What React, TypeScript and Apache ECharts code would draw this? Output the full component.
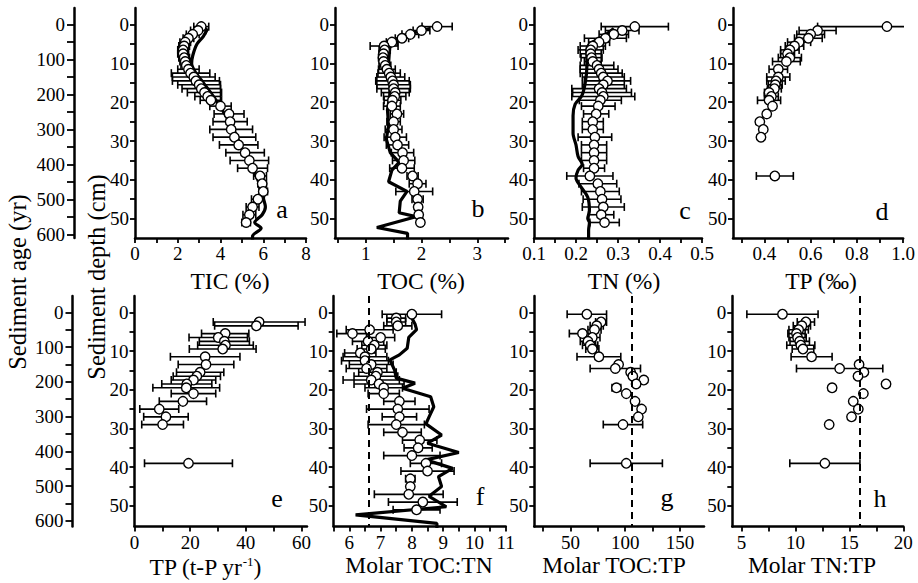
import { useEffect, useRef } from 'react';
import * as echarts from 'echarts';

// ---------- sample depths (cm) ----------
const DEPTH_MAIN = [0.5,1.5,2.5,3.5,4.5,5.5,6.5,7.5,8.5,9.5,10.5,11.5,12.5,13.5,14.5,15.5,16.5,17.5,18.5,19.5,21,23,25,27,29,31,33,35,37,39,41,43,45,47,49,51];
const DEPTH_D = [0.5,1.5,2.5,3.5,4.5,5.5,6.5,7.5,8.5,9.5,11.5,13.5,14.5,15.5,16.5,17.5,18.5,19.5,21,23,25,27,29,39];
const DEPTH_E = [2.5,3.5,5.5,6.5,7.5,8.5,9.5,11.5,13.5,15.5,16.5,17.5,18.5,19.5,21,23,25,27,29,39];
const DEPTH_G = [0.5,2.5,3.5,4.5,5.5,6.5,7.5,8.5,9.5,11.5,13.5,14.5,15.5,16.5,17.5,18.5,19.5,21,23,25,27,29,39];
const DEPTH_H = [0.5,2.5,3.5,4.5,5.5,6.5,7.5,8.5,9.5,11.5,13.5,14.5,15.5,16.5,18.5,19.5,21,23,25,27,29,39];

// ---------- a: TIC (%) ----------
const TIC = [3.1,2.95,2.7,2.5,2.35,2.3,2.25,2.25,2.3,2.35,2.4,2.5,2.6,2.75,2.85,3.0,3.1,3.25,3.4,3.55,4.0,4.4,4.45,4.5,4.65,4.85,5.15,5.35,5.5,5.85,5.95,6.0,5.75,5.5,5.35,5.2];
const TIC_ERR = [0.35,0.35,0.3,0.25,0.25,0.25,0.25,0.25,0.25,0.25,0.25,0.5,0.9,1.0,1.1,1.0,0.9,0.8,0.6,0.5,0.5,0.7,0.8,1.0,1.0,0.9,0.9,0.9,0.7,0.3,0.2,0.2,0.3,0.3,0.3,0.2];
const LINE_A_VAL = [3.4,3.2,2.9,2.7,2.65,2.8,3.2,3.6,3.85,4.3,4.7,5.0,5.4,5.75,5.95,6.1,5.95,5.6,5.9,5.5,5.5];
const LINE_A_DEPTH = [1,3,5,8,10,12,15,18,20,24,28,32,36,40,44,47,49,51,52.5,54.5,56];

// ---------- b: TOC (%) ----------
const TOC = [2.28,2.0,1.8,1.65,1.47,1.33,1.34,1.32,1.31,1.32,1.35,1.38,1.42,1.45,1.48,1.5,1.5,1.53,1.52,1.48,1.47,1.56,1.5,1.5,1.53,1.57,1.66,1.68,1.65,1.84,1.93,1.87,1.93,1.94,1.95,1.98];
const TOC_ERR = [0.27,0.15,0.15,0.12,0.1,0.25,0.1,0.08,0.08,0.08,0.1,0.15,0.2,0.25,0.3,0.3,0.3,0.25,0.2,0.15,0.15,0.12,0.12,0.15,0.2,0.2,0.2,0.2,0.22,0.1,0.15,0.33,0.1,0.05,0.05,0.05];
const LINE_B_VAL = [2.15,1.75,1.5,1.43,1.41,1.44,1.43,1.39,1.41,1.37,1.44,1.6,1.47,1.41,1.74,1.62,1.6,1.9,1.2,1.75,1.75];
const LINE_B_DEPTH = [1,2.5,4,6,10,15,18.5,22,26,29.5,33,35.5,37.5,40.5,43,45.5,48.5,49.5,52.3,53.8,56];

// ---------- c: TN (%) ----------
const TN = [0.34,0.31,0.29,0.27,0.255,0.24,0.235,0.235,0.237,0.24,0.25,0.255,0.26,0.265,0.275,0.265,0.255,0.262,0.265,0.258,0.253,0.248,0.24,0.24,0.245,0.243,0.243,0.243,0.243,0.233,0.252,0.258,0.262,0.265,0.26,0.268];
const TN_ERR = [0.08,0.04,0.035,0.05,0.025,0.03,0.03,0.025,0.025,0.02,0.04,0.045,0.05,0.05,0.055,0.05,0.065,0.07,0.075,0.05,0.04,0.03,0.025,0.025,0.04,0.03,0.03,0.03,0.025,0.055,0.045,0.045,0.045,0.05,0.03,0.035];
const LINE_C_VAL = [0.29,0.265,0.235,0.226,0.226,0.222,0.214,0.198,0.193,0.193,0.2,0.205,0.215,0.205,0.2,0.213,0.228,0.232,0.228,0.232,0.23,0.23];
const LINE_C_DEPTH = [1,3,4.8,6.5,10.5,15,18.3,20.5,23.5,28,31,34,36,37.5,39.5,42,44.5,48,50,51,53,56];

// ---------- d: TP (permil) ----------
const TP = [0.93,0.63,0.6,0.59,0.55,0.53,0.51,0.5,0.51,0.495,0.46,0.46,0.45,0.447,0.443,0.42,0.43,0.42,0.435,0.41,0.38,0.395,0.385,0.445];
const TP_ERR = [0.3,0.08,0.06,0.06,0.05,0.04,0.04,0.03,0.05,0.06,0.04,0.05,0.04,0.03,0.03,0.02,0.03,0.05,0.01,0,0,0,0.01,0.08];

// ---------- e: TP flux (t-P/yr) ----------
const TP_FLUX = [44.8,43.8,32.6,30.1,32.3,32.7,31.7,25.4,25.7,23.6,22.4,21.2,18.8,18.6,21.2,17.4,8.9,11.3,10.1,19.4];
const TP_FLUX_ERR = [16.5,15,8.5,10.5,9,10,12,12.5,10,8.5,8.5,8,9,12,8,8.5,7,8,7.5,15.8];

// ---------- f: molar TOC:TN ----------
const TOC_TN = [8.0,7.5,7.5,7.55,6.65,6.1,7.0,6.6,6.8,6.7,6.35,6.5,6.5,6.7,6.55,6.9,6.85,6.7,6.95,7.1,7.1,7.6,7.55,7.6,7.5,7.7,8.25,8.2,8.0,8.45,8.5,7.95,7.95,7.9,8.35,8.15];
const TOC_TN_ERR = [0.95,0.3,0.3,0.45,0.75,0.5,0.45,0.5,0.4,0.45,0.5,0.7,0.75,0.7,0.65,0.6,0.7,0.9,0.8,0.6,0.5,0.5,1.0,0.55,0.9,0.6,0.55,0.45,0.9,0.5,0.85,0.15,0.1,1.1,1.1,0.75];
const LINE_F_VAL = [7.9,8.1,8.15,7.9,7.85,7.6,7.3,7.45,7.5,8.1,7.7,8.6,8.7,8.55,8.45,8.95,8.5,9.5,8.45,9.3,8.85,8.95,8.55,9.1,6.2,8.8,8.8];
const LINE_F_DEPTH = [0,3,4.5,6.5,9.3,11,12.3,15,17,18.3,19.6,21.8,24.4,27,28.8,31.7,33.8,36.2,38.1,40.3,42.4,45,47.5,50.2,52.3,54.5,56];
const REF_F = 6.625;

// ---------- g: molar TOC:TP ----------
const TOC_TP = [65,78,74,72,61,70,66,68,70,76,94,91,105,107,117,110,92,101,109,115,112,98,101];
const TOC_TP_ERR = [18,5,6,6,12,7,7,7,6,20,0,23,0,0,0,0,4,0,0,0,0,18,33];
const REF_G = 106;

// ---------- h: molar TN:TP ----------
const TN_TP = [8.8,10.97,10.6,10.3,10.1,10.2,10.4,10.5,10.7,11.5,15.9,14.1,16.35,15.8,18.4,13.4,16.3,15.36,15.83,15.2,13.13,12.73];
const TN_TP_ERR = [3.3,0.8,0.8,0.9,0.8,0.8,0.9,1.3,1.0,1.9,0,4.0,0,0,0,0.25,0,0,0,0,0.25,3.25];
const REF_H = 16;

// ---------- ticks & labels ----------
const DEPTH_TICKS = [0,5,10,15,20,25,30,35,40,45,50];
const DEPTH_LABELS = [0,10,20,30,40,50];
const AGE_LABELS = [0,100,200,300,400,500,600];
const AGE_TICKS = [0,50,100,150,200,250,300,350,400,450,500,550,600];

const X_TICKS_A = [0,1,2,3,4,5,6,7,8];
const X_LABELS_A = [0,2,4,6,8];
const X_TICKS_B = [0.5,1,1.5,2,2.5,3,3.5];
const X_LABELS_B = [1,2,3];
const X_TICKS_C = [0.1,0.15,0.2,0.25,0.3,0.35,0.4,0.45,0.5];
const X_LABELS_C = [0.1,0.2,0.3,0.4,0.5];
const X_TICKS_D = [0.3,0.4,0.5,0.6,0.7,0.8,0.9,1.0];
const X_LABELS_D = [0.4,0.6,0.8,1.0];
const X_TICKS_E = [0,10,20,30,40,50,60];
const X_LABELS_E = [0,20,40,60];
const X_TICKS_F = [5.5,6,6.5,7,7.5,8,8.5,9,9.5,10,10.5,11];
const X_LABELS_F = [6,7,8,9,10,11];
const X_TICKS_G = [25,50,75,100,125,150];
const X_LABELS_G = [50,100,150];
const X_TICKS_H = [5,7.5,10,12.5,15,17.5,20];
const X_LABELS_H = [5,10,15,20];

const SERIF = 'Liberation Serif';

// layout of the two rows (pixels) and their depth / age ranges
const R1 = { top: 8.0, height: 230.0, yMin: -4.3, yMax: 55.0, ageMin: -47.7, ageMax: 609.6, ageOffset: 61 };
const R2 = { top: 296, height: 230.5, yMin: -4.2, yMax: 55.3, ageMin: -46.8, ageMax: 616, ageOffset: 62 };

const str = (v: number) => String(v);
const fix1 = (v: number) => v.toFixed(1);

const PANELS: any[] = [
  { row: R1, left: 135, width: 171, xMin: 0, xMax: 8, ticks: X_TICKS_A, labels: X_LABELS_A, fmt: str, depth: DEPTH_MAIN, val: TIC, err: TIC_ERR, lv: LINE_A_VAL, ld: LINE_A_DEPTH, smooth: 0.3, age: true },
  { row: R1, left: 335, width: 173, xMin: 0.45, xMax: 3.55, ticks: X_TICKS_B, labels: X_LABELS_B, fmt: str, depth: DEPTH_MAIN, val: TOC, err: TOC_ERR, lv: LINE_B_VAL, ld: LINE_B_DEPTH, smooth: 0 },
  { row: R1, left: 534, width: 168, xMin: 0.1, xMax: 0.5, ticks: X_TICKS_C, labels: X_LABELS_C, fmt: fix1, depth: DEPTH_MAIN, val: TN, err: TN_ERR, lv: LINE_C_VAL, ld: LINE_C_DEPTH, smooth: 0.3 },
  { row: R1, left: 733, width: 172, xMin: 0.264, xMax: 1.0, ticks: X_TICKS_D, labels: X_LABELS_D, fmt: fix1, depth: DEPTH_D, val: TP, err: TP_ERR },
  { row: R2, left: 134.5, width: 172.5, xMin: 0, xMax: 62, ticks: X_TICKS_E, labels: X_LABELS_E, fmt: str, depth: DEPTH_E, val: TP_FLUX, err: TP_FLUX_ERR, age: true },
  { row: R2, left: 333.7, width: 172, xMin: 5.5, xMax: 11, ticks: X_TICKS_F, labels: X_LABELS_F, fmt: str, depth: DEPTH_MAIN, val: TOC_TN, err: TOC_TN_ERR, lv: LINE_F_VAL, ld: LINE_F_DEPTH, smooth: 0, ref: REF_F },
  { row: R2, left: 534.3, width: 169.7, xMin: 17, xMax: 172, ticks: X_TICKS_G, labels: X_LABELS_G, fmt: str, depth: DEPTH_G, val: TOC_TP, err: TOC_TP_ERR, ref: REF_G },
  { row: R2, left: 732.3, width: 171, xMin: 4.15, xMax: 20, ticks: X_TICKS_H, labels: X_LABELS_H, fmt: str, depth: DEPTH_H, val: TN_TP, err: TN_TP_ERR, ref: REF_H },
];

const LETTERS = [
  { t: 'a', x: 282, y: 209 }, { t: 'b', x: 478, y: 208 }, { t: 'c', x: 685, y: 210 }, { t: 'd', x: 882, y: 211 },
  { t: 'e', x: 277, y: 498 }, { t: 'f', x: 480, y: 496 }, { t: 'g', x: 667, y: 497 }, { t: 'h', x: 880, y: 498 },
];

const X_TITLES = [
  { t: 'TIC (%)', x: 230, y: 281 }, { t: 'TOC (%)', x: 421, y: 281 }, { t: 'TN (%)', x: 624, y: 281 }, { t: 'TP (‰)', x: 821, y: 281 },
  { t: 'TP (t-P yr{sup|-1})', x: 205, y: 567 }, { t: 'Molar TOC:TN', x: 419, y: 565 }, { t: 'Molar TOC:TP', x: 614, y: 565 }, { t: 'Molar TN:TP', x: 812, y: 565 },
];

const axisLine = { show: true, onZero: false, lineStyle: { color: '#000', width: 2.5 } };
const labelStyle = { color: '#000', fontFamily: SERIF, fontSize: 19 };

function errRender(_params: any, api: any) {
  const x = api.value(0);
  const y = api.value(1);
  const e = api.value(2);
  if (!e) return { type: 'group', children: [] };
  const a = api.coord([x - e, y]);
  const b = api.coord([x + e, y]);
  const h = 4;
  const st = { stroke: '#000', lineWidth: 1.6 };
  return {
    type: 'group',
    children: [
      { type: 'line', shape: { x1: a[0], y1: a[1], x2: b[0], y2: b[1] }, style: st },
      { type: 'line', shape: { x1: a[0], y1: a[1] - h, x2: a[0], y2: a[1] + h }, style: st },
      { type: 'line', shape: { x1: b[0], y1: b[1] - h, x2: b[0], y2: b[1] + h }, style: st },
    ],
  };
}

function buildOption() {
  const grid: any[] = [];
  const xAxis: any[] = [];
  const yAxis: any[] = [];
  const series: any[] = [];

  PANELS.forEach((p, i) => {
    grid.push({ left: p.left, top: p.row.top, width: p.width, height: p.row.height });
    xAxis.push({
      type: 'value', gridIndex: i, min: p.xMin, max: p.xMax, position: 'bottom',
      axisLine,
      axisTick: { show: true, inside: false, length: 5, customValues: p.ticks, lineStyle: { color: '#000', width: 1.8 } },
      axisLabel: { show: true, customValues: p.labels, formatter: p.fmt, margin: 6, ...labelStyle },
      splitLine: { show: false },
    });
    yAxis.push({
      type: 'value', gridIndex: i, min: p.row.yMin, max: p.row.yMax, inverse: true, position: 'left',
      axisLine,
      axisTick: { show: true, inside: false, length: 5, customValues: DEPTH_TICKS, lineStyle: { color: '#000', width: 1.8 } },
      axisLabel: { show: true, customValues: DEPTH_LABELS, formatter: str, margin: 6, ...labelStyle },
      splitLine: { show: false },
    });

    if (p.lv) {
      series.push({
        type: 'line', xAxisIndex: i, yAxisIndex: i, silent: true, clip: true, z: 2,
        data: p.lv.map((v: number, k: number) => [v, p.ld[k]]),
        symbol: 'none', showSymbol: false, smooth: p.smooth,
        lineStyle: { color: '#000', width: 3.2 },
      });
    }
    series.push({
      type: 'custom', xAxisIndex: i, yAxisIndex: i, silent: true, clip: true, z: 3,
      encode: { x: 0, y: 1 },
      data: p.val.map((v: number, k: number) => [v, p.depth[k], p.err[k]]),
      renderItem: errRender,
    });
    const sc: any = {
      type: 'scatter', xAxisIndex: i, yAxisIndex: i, silent: true, z: 4,
      data: p.val.map((v: number, k: number) => [v, p.depth[k]]),
      symbol: 'circle', symbolSize: 9.5,
      itemStyle: { color: '#fff', borderColor: '#000', borderWidth: 1.4, opacity: 1 },
    };
    if (p.ref != null) {
      sc.markLine = {
        silent: true, symbol: ['none', 'none'], label: { show: false },
        lineStyle: { color: '#000', width: 2, type: [7, 5] },
        data: [{ xAxis: p.ref }],
      };
    }
    series.push(sc);
  });

  // age axes (left of each row)
  PANELS.forEach((p, i) => {
    if (!p.age) return;
    yAxis.push({
      type: 'value', gridIndex: i, min: p.row.ageMin, max: p.row.ageMax, inverse: true, position: 'left', offset: p.row.ageOffset,
      axisLine,
      axisTick: { show: true, inside: false, length: 7, customValues: AGE_TICKS, lineStyle: { color: '#000', width: 1.8 } },
      axisLabel: { show: true, customValues: AGE_LABELS, formatter: str, margin: 9, ...labelStyle },
      splitLine: { show: false },
    });
  });

  const graphic: any[] = [];
  LETTERS.forEach((l) => {
    graphic.push({ type: 'text', x: l.x, y: l.y, silent: true, style: { text: l.t, fill: '#000', fontFamily: SERIF, fontSize: 26, align: 'center', verticalAlign: 'middle' } });
  });
  X_TITLES.forEach((l) => {
    graphic.push({
      type: 'text', x: l.x, y: l.y, silent: true,
      style: {
        text: l.t, fill: '#000', fontFamily: SERIF, fontSize: 23.5, align: 'center', verticalAlign: 'middle',
        rich: { sup: { fontFamily: SERIF, fontSize: 13, verticalAlign: 'top', fill: '#000' } },
      },
    });
  });
  graphic.push({ type: 'text', x: 17, y: 282, rotation: Math.PI / 2, silent: true, style: { text: 'Sediment age (yr)', fill: '#000', fontFamily: SERIF, fontSize: 24.5, align: 'center', verticalAlign: 'middle' } });
  graphic.push({ type: 'text', x: 96, y: 277, rotation: Math.PI / 2, silent: true, style: { text: 'Sediment depth (cm)', fill: '#000', fontFamily: SERIF, fontSize: 24.5, align: 'center', verticalAlign: 'middle' } });

  return { animation: false, backgroundColor: '#fff', textStyle: { fontFamily: SERIF }, grid, xAxis, yAxis, series, graphic };
}

export default function App() {
  const ref = useRef<HTMLDivElement>(null);
  useEffect(() => {
    if (!ref.current) return;
    const chart = echarts.init(ref.current, null, { renderer: 'svg' });
    chart.setOption(buildOption() as any);
    return () => chart.dispose();
  }, []);
  return <div ref={ref} style={{ position: 'fixed', left: 0, top: 0, width: 918, height: 583, background: '#fff' }} />;
}
